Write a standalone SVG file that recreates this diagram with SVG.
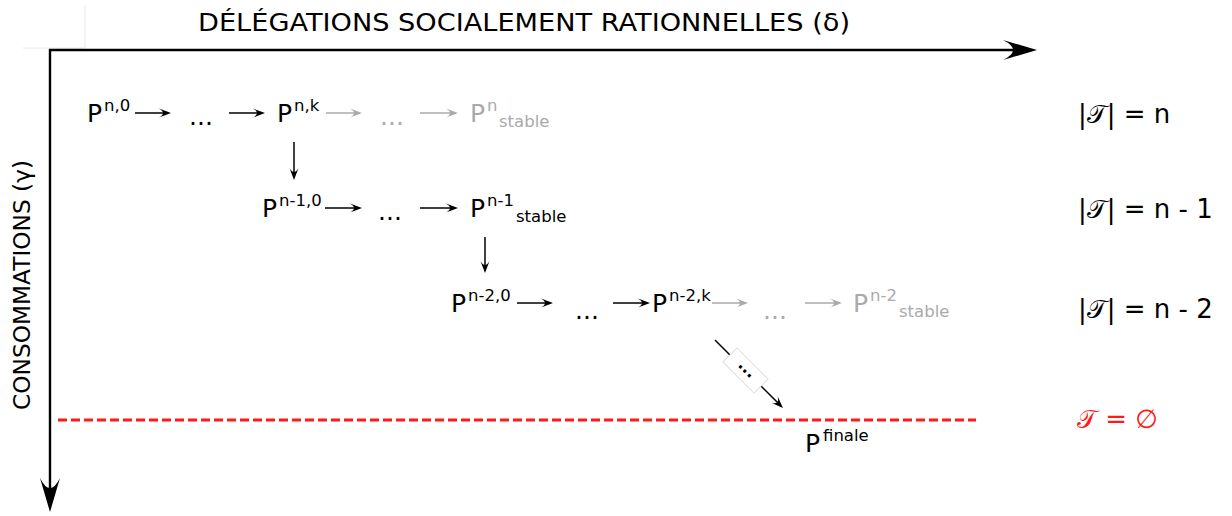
<svg xmlns="http://www.w3.org/2000/svg" width="1232" height="516" viewBox="0 0 1232 516">
<style>
text{font-family:"DejaVu Sans","Liberation Sans",sans-serif;fill:#000}
.big{font-size:25px}
.sm{font-size:16.5px}
.lab{font-size:26px}
.g{fill:#aaaaaa}
.axis{stroke:#000;stroke-width:2.4;fill:none}
.ar{stroke:#000;stroke-width:1.5;fill:none}
.arg{stroke:#aaaaaa;stroke-width:1.5;fill:none}
.red{fill:#ff1a1a}
</style>
<defs>
<marker id="ax" markerUnits="userSpaceOnUse" orient="auto" overflow="visible" markerWidth="1" markerHeight="1" refX="0" refY="0">
<path d="M24,0 L-10,-10 Q10,0 -10,10 Z" fill="#000"/>
</marker>
<marker id="a" markerUnits="userSpaceOnUse" orient="auto" overflow="visible" markerWidth="1" markerHeight="1" refX="0" refY="0">
<path d="M8,0 L-4,-4.5 Q4,0 -4,4.5 Z" fill="#000"/>
</marker>
<marker id="ag" markerUnits="userSpaceOnUse" orient="auto" overflow="visible" markerWidth="1" markerHeight="1" refX="0" refY="0">
<path d="M8,0 L-4,-4.5 Q4,0 -4,4.5 Z" fill="#aaaaaa"/>
</marker>
</defs>
<rect width="1232" height="516" fill="#fff"/>
<path d="M23,48 H85 V5" stroke="#e8e8e8" stroke-width="1" fill="none"/>

<g id="axes">
<line class="axis" x1="49" y1="50" x2="1013" y2="50" marker-end="url(#ax)"/>
<line class="axis" x1="50" y1="49" x2="50" y2="488" marker-end="url(#ax)"/>
<text x="198" y="31" font-size="24" textLength="652" lengthAdjust="spacingAndGlyphs">DÉLÉGATIONS SOCIALEMENT RATIONNELLES (δ)</text>
<text transform="translate(30,410) rotate(-90)" font-size="23" textLength="250" lengthAdjust="spacingAndGlyphs">CONSOMMATIONS (γ)</text>
</g>

<g id="limit">
<line x1="58" y1="420" x2="976" y2="420" stroke="#ff1a1a" stroke-width="3" stroke-dasharray="9,4"/>
</g>

<g id="connectors">
<line class="ar" x1="135" y1="113" x2="163" y2="113" marker-end="url(#a)"/>
<line class="ar" x1="229" y1="113" x2="257" y2="113" marker-end="url(#a)"/>
<line class="arg" x1="326" y1="113" x2="354" y2="113" marker-end="url(#ag)"/>
<line class="arg" x1="420" y1="113" x2="450" y2="113" marker-end="url(#ag)"/>
<line class="ar" x1="294" y1="142" x2="294" y2="172" marker-end="url(#a)"/>
<line class="ar" x1="325" y1="208" x2="354" y2="208" marker-end="url(#a)"/>
<line class="ar" x1="420" y1="208" x2="450" y2="208" marker-end="url(#a)"/>
<line class="ar" x1="485" y1="237" x2="485" y2="265" marker-end="url(#a)"/>
<line class="ar" x1="517" y1="303" x2="545" y2="303" marker-end="url(#a)"/>
<line class="ar" x1="613" y1="303" x2="642" y2="303" marker-end="url(#a)"/>
<line class="arg" x1="712" y1="303" x2="740" y2="303" marker-end="url(#ag)"/>
<line class="arg" x1="805" y1="303" x2="834" y2="303" marker-end="url(#ag)"/>
<line class="ar" x1="715" y1="340" x2="730" y2="355"/>
<line class="ar" x1="761" y1="386" x2="777.3" y2="402.3" marker-end="url(#a)"/>
<g transform="translate(745.5,370.5) rotate(45)">
<rect x="-22" y="-10" width="44" height="20" fill="#fff" stroke="#dddddd" stroke-width="1"/>
<text x="0" y="2.5" font-size="16" font-weight="bold" text-anchor="middle">...</text>
</g>
</g>

<g id="p-n-0"><text class="big" x="87" y="122">P</text><text class="sm" x="104" y="111">n,0</text></g>
<g id="dots-1"><text class="big" x="189" y="125">...</text></g>
<g id="p-n-k"><text class="big" x="277" y="122">P</text><text class="sm" x="294" y="111">n,k</text></g>
<g id="dots-1g"><text class="big g" x="380" y="125">...</text></g>
<g id="p-n-stable"><text class="big g" x="470" y="122">P</text><text class="sm g" x="487" y="111">n</text><text class="sm g" x="499" y="127">stable</text></g>

<g id="p-n1-0"><text class="big" x="262" y="217">P</text><text class="sm" x="279" y="206">n-1,0</text></g>
<g id="dots-2"><text class="big" x="378" y="220">...</text></g>
<g id="p-n1-stable"><text class="big" x="470" y="217">P</text><text class="sm" x="487" y="206">n-1</text><text class="sm" x="516" y="222">stable</text></g>

<g id="p-n2-0"><text class="big" x="451" y="312">P</text><text class="sm" x="468" y="301">n-2,0</text></g>
<g id="dots-3"><text class="big" x="575" y="319">...</text></g>
<g id="p-n2-k"><text class="big" x="652" y="312">P</text><text class="sm" x="669" y="301">n-2,k</text></g>
<g id="dots-3g"><text class="big g" x="763" y="319">...</text></g>
<g id="p-n2-stable"><text class="big g" x="853" y="312">P</text><text class="sm g" x="870" y="301">n-2</text><text class="sm g" x="899" y="317">stable</text></g>

<g id="p-finale"><text class="big" x="805" y="452">P</text><text class="sm" x="823" y="441">finale</text></g>

<g id="labels">
<text class="lab" x="1078" y="123">|𝒯| = n</text>
<text class="lab" x="1078" y="218">|𝒯| = n - 1</text>
<text class="lab" x="1078" y="318">|𝒯| = n - 2</text>
<text class="lab red" x="1077" y="428">𝒯 = ∅</text>
</g>
</svg>
